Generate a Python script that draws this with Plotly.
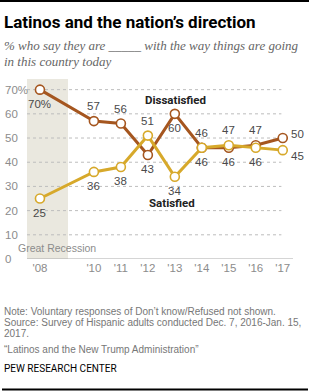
import plotly.graph_objects as go

# ---- data ----
years = [2008, 2010, 2011, 2012, 2013, 2014, 2015, 2016, 2017]
tick_labels = ["'08", "'10", "'11", "'12", "'13", "'14", "'15", "'16", "'17"]
dissatisfied = [70, 57, 56, 43, 60, 46, 46, 47, 50]
satisfied = [25, 36, 38, 51, 34, 46, 47, 46, 45]
y_ticks = [0, 10, 20, 30, 40, 50, 60, 70]
recession = [2007.52, 2009.04]

# label placement (style)
dis_pos = ["below", "above", "above", "below", "below", "above", "below", "above", "right_up"]
sat_pos = ["below", "below", "below", "above", "below", "below", "above", "below", "right_down"]

W, H = 309, 391
L, R, T, B = 27, 16, 79, 132
PW, PH = W - L - R, H - T - B

def px(x):
    return (x - L) / PW

def py(y):
    return (H - B - y) / PH

BROWN = "#A5561F"
GOLD = "#D7A92B"
GRAY_TXT = "#8C8C8C"
LABEL_TXT = "#4A4A4A"

fig = go.Figure()

for vals, color in [(dissatisfied, BROWN), (satisfied, GOLD)]:
    fig.add_trace(go.Scatter(
        x=years, y=vals, mode="lines+markers",
        line=dict(color=color, width=3),
        marker=dict(size=9, color="white", line=dict(color=color, width=1.6)),
        hoverinfo="skip", showlegend=False, cliponaxis=False,
    ))

shapes = []
shapes.append(dict(type="rect", xref="x", yref="paper", x0=recession[0], x1=recession[1],
                   y0=0, y1=1, fillcolor="#EAE8DF", line=dict(width=0), layer="below"))
for v in y_ticks[1:]:
    shapes.append(dict(type="line", xref="x", yref="y", x0=recession[0], x1=years[-1] - 0.05,
                       y0=v, y1=v, line=dict(color="#BDBDBD", width=1, dash="dot"), layer="below"))
shapes.append(dict(type="line", xref="paper", yref="y", x0=0, x1=1, y0=0, y1=0,
                   line=dict(color="#ABABAB", width=1)))
shapes.append(dict(type="line", xref="paper", yref="paper", x0=px(0), x1=px(309), y0=py(1), y1=py(1),
                   line=dict(color="#000000", width=2)))
shapes.append(dict(type="line", xref="paper", yref="paper", x0=px(2), x1=px(308), y0=py(389.5), y1=py(389.5),
                   line=dict(color="#000000", width=2)))

ann = []
for v in y_ticks:
    ann.append(dict(xref="paper", yref="y", x=px(2.5), y=v, text=f"{v}%" if v == 70 else str(v),
                    showarrow=False, xanchor="left", yanchor="middle",
                    font=dict(family="Liberation Sans", size=11.5, color=GRAY_TXT)))

def add_labels(vals, poss, first_pct):
    for i, (x, v, p) in enumerate(zip(years, vals, poss)):
        t = f"{v}%" if (i == 0 and first_pct) else str(v)
        xs, ys = 0, 0
        if p == "above":
            ys = 15
        elif p == "below":
            ys = -14
        elif p == "right_up":
            xs, ys = 15, 4
        elif p == "right_down":
            xs, ys = 15, -6
        ann.append(dict(x=x, y=v, text=t, showarrow=False, xshift=xs, yshift=ys,
                        xanchor="center", yanchor="middle",
                        font=dict(family="Liberation Sans", size=11.5, color=LABEL_TXT)))

add_labels(dissatisfied, dis_pos, True)
add_labels(satisfied, sat_pos, False)

ann.append(dict(x=2013.03, y=65.9, text="<b>Dissatisfied</b>", showarrow=False,
                font=dict(family="Roboto", size=11.5, color="#222222")))
ann.append(dict(x=2012.9, y=23.0, text="<b>Satisfied</b>", showarrow=False,
                font=dict(family="Roboto", size=11.5, color="#222222")))

ann.append(dict(xref="paper", yref="paper", x=px(16), y=py(247.5), text="Great Recession",
                showarrow=False, xanchor="left", yanchor="middle",
                font=dict(family="Liberation Sans", size=10.5, color=GRAY_TXT)))

ann.append(dict(xref="paper", yref="paper", x=px(2), y=py(21.5), text="<b>Latinos and the nation’s direction</b>",
                showarrow=False, xanchor="left", yanchor="middle",
                font=dict(family="Roboto", size=17, color="#000000")))
ann.append(dict(xref="paper", yref="paper", x=px(2), y=py(45), text="<i>% who say they are _____ with the way things are going</i>",
                showarrow=False, xanchor="left", yanchor="middle",
                font=dict(family="Liberation Serif", size=13, color="#666666")))
ann.append(dict(xref="paper", yref="paper", x=px(2), y=py(62), text="<i>in this country today</i>",
                showarrow=False, xanchor="left", yanchor="middle",
                font=dict(family="Liberation Serif", size=13, color="#666666")))

notes = [
    (311.5, "Note: Voluntary responses of Don’t know/Refused not shown."),
    (322.5, "Source: Survey of Hispanic adults conducted Dec. 7, 2016-Jan. 15,"),
    (333.5, "2017."),
    (349, "“Latinos and the New Trump Administration”"),
]
for yy, t in notes:
    ann.append(dict(xref="paper", yref="paper", x=px(2), y=py(yy), text=t, showarrow=False,
                    xanchor="left", yanchor="middle",
                    font=dict(family="Liberation Sans", size=10, color="#777777")))
ann.append(dict(xref="paper", yref="paper", x=px(2), y=py(368.5), text="PEW RESEARCH CENTER", showarrow=False,
                xanchor="left", yanchor="middle",
                font=dict(family="Roboto", size=10, color="#000000")))

fig.update_layout(
    width=W, height=H, margin=dict(l=L, r=R, t=T, b=B),
    paper_bgcolor="white", plot_bgcolor="white",
    shapes=shapes, annotations=ann,
    xaxis=dict(range=[2007.52, 2017.38], tickvals=years, ticktext=tick_labels,
               showgrid=False, zeroline=False, showline=False, ticks="",
               tickfont=dict(family="Liberation Sans", size=11.5, color=GRAY_TXT), fixedrange=True),
    yaxis=dict(range=[0, 74.4], showgrid=False, zeroline=False, showline=False,
               showticklabels=False, fixedrange=True),
)

fig.write_html("out.html", config={"displayModeBar": False})
